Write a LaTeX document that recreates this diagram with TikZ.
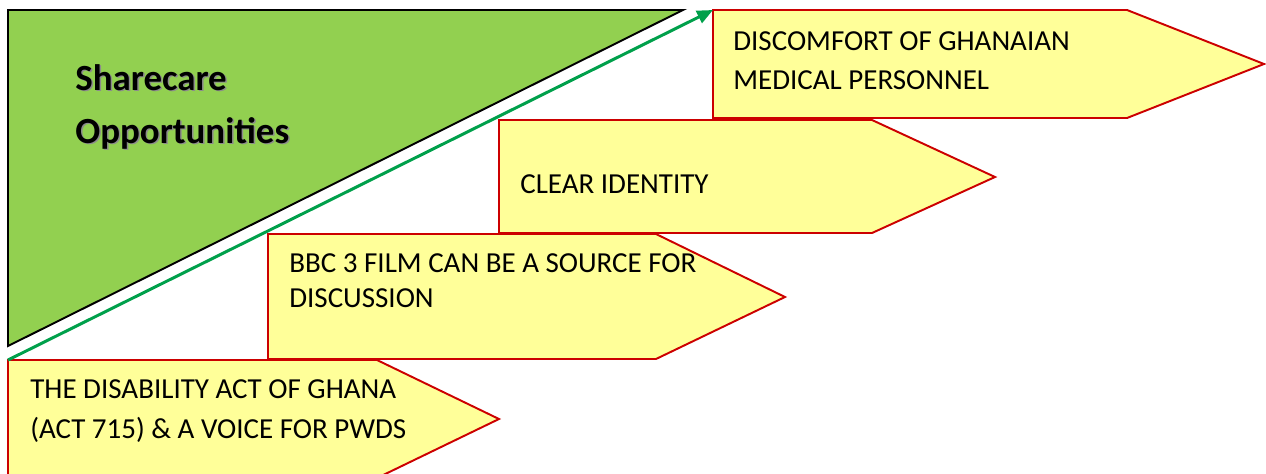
\documentclass[tikz,border=0pt]{standalone}
\usepackage{fontspec}
\setmainfont{Carlito}
\usetikzlibrary{arrows.meta, positioning}
\definecolor{sharegreen}{RGB}{146,208,80}
\definecolor{paleyellow}{RGB}{255,255,153}
\definecolor{boxred}{RGB}{204,0,0}
\definecolor{arrowgreen}{RGB}{0,160,75}

\begin{document}
\begin{tikzpicture}[x=0.02cm, y=-0.02cm,
    arrowbox/.style={draw=boxred, line width=1.1pt, fill=paleyellow},
    boxtext/.style={anchor=base west, inner sep=0pt, align=left, font=\fontsize{16.5}{22.7}\selectfont},
    titletext/.style={anchor=base west, inner sep=0pt, align=left, font=\fontsize{21}{30}\selectfont\bfseries}]
  \useasboundingbox (0,0) rectangle (1266,473);
  \clip (0,0) rectangle (1266,473);

  % Green triangle
  \draw[line width=1.1pt, fill=sharegreen] (8,10) -- (683,10) -- (8,346) -- cycle;
  \node[titletext, text=black!45] (titleshadow) at (76.5,144.5) {Sharecare\\Opportunities};
  \node[titletext] (title) at (75,143) {Sharecare\\Opportunities};

  % Arrow boxes
  \draw[arrowbox] (713,10) coordinate (disc nw) -- (1127,10) -- (1264,64) -- (1127,118) -- (713,118) -- cycle;
  \node[boxtext] (disc) at (733,90) {DISCOMFORT OF GHANAIAN\\MEDICAL PERSONNEL};

  \draw[arrowbox] (499,120) -- (872,120) -- (995,177) -- (872,233) -- (499,233) -- cycle;
  \node[boxtext] (clear) at (520,193) {CLEAR IDENTITY};

  \draw[arrowbox] (268,234) -- (656,234) -- (785,297) -- (656,359) -- (268,359) -- cycle;
  \node[boxtext, font=\fontsize{16.5}{19.8}\selectfont] (bbc) at (289,307) {BBC 3 FILM CAN BE A SOURCE FOR\\DISCUSSION};

  \draw[arrowbox] (8,360) coordinate (act nw) -- (377,360) -- (499,419) -- (377,478) -- (8,478) -- cycle;
  \node[boxtext] (act) at (30,438) {THE DISABILITY ACT OF GHANA\\(ACT 715) \& A VOICE FOR PWDS};

  % Rising arrow
  \draw[arrowgreen, line width=1.7pt, -{Triangle[length=9pt, width=7.5pt]}] (act nw) -- (disc nw);
\end{tikzpicture}
\end{document}
